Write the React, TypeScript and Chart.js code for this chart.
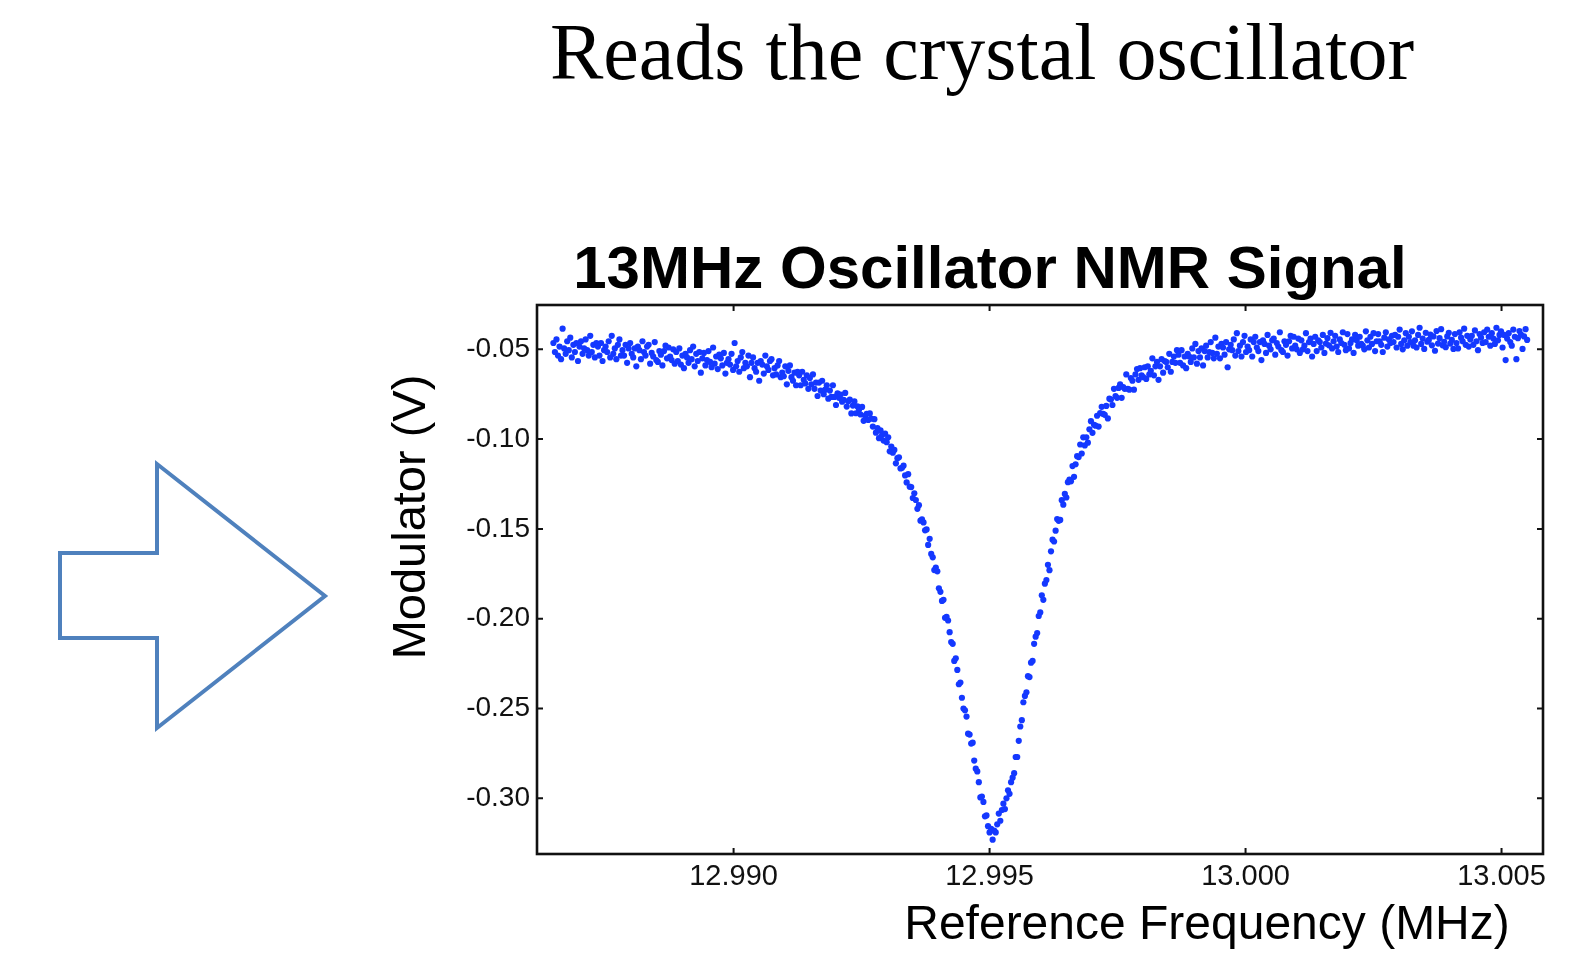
import React, { useEffect, useRef } from "react";
import { Chart, registerables } from "chart.js";

Chart.register(...registerables);

// Sweep frequencies (MHz)
const freqMHz = [
  12.98648, 12.98651, 12.98654, 12.98657, 12.9866, 12.98663, 12.98666, 12.98669, 12.98672, 12.98675,
  12.98678, 12.98681, 12.98684, 12.98687, 12.9869, 12.98693, 12.98696, 12.98699, 12.98702, 12.98705,
  12.98708, 12.98711, 12.98714, 12.98717, 12.9872, 12.98723, 12.98726, 12.98729, 12.98732, 12.98735,
  12.98738, 12.98741, 12.98744, 12.98747, 12.9875, 12.98753, 12.98756, 12.98759, 12.98762, 12.98765,
  12.98768, 12.98771, 12.98774, 12.98777, 12.9878, 12.98783, 12.98786, 12.98789, 12.98792, 12.98795,
  12.98798, 12.98801, 12.98804, 12.98807, 12.9881, 12.98813, 12.98816, 12.98819, 12.98822, 12.98825,
  12.98828, 12.98831, 12.98834, 12.98837, 12.9884, 12.98843, 12.98846, 12.98849, 12.98852, 12.98855,
  12.98858, 12.98861, 12.98864, 12.98867, 12.9887, 12.98873, 12.98876, 12.98879, 12.98882, 12.98885,
  12.98888, 12.98891, 12.98894, 12.98897, 12.989, 12.98903, 12.98906, 12.98909, 12.98912, 12.98915,
  12.98918, 12.98921, 12.98924, 12.98927, 12.9893, 12.98933, 12.98936, 12.98939, 12.98942, 12.98945,
  12.98948, 12.98951, 12.98954, 12.98957, 12.9896, 12.98963, 12.98966, 12.98969, 12.98972, 12.98975,
  12.98978, 12.98981, 12.98984, 12.98987, 12.9899, 12.98993, 12.98996, 12.98999, 12.99002, 12.99005,
  12.99008, 12.99011, 12.99014, 12.99017, 12.9902, 12.99023, 12.99026, 12.99029, 12.99032, 12.99035,
  12.99038, 12.99041, 12.99044, 12.99047, 12.9905, 12.99053, 12.99056, 12.99059, 12.99062, 12.99065,
  12.99068, 12.99071, 12.99074, 12.99077, 12.9908, 12.99083, 12.99086, 12.99089, 12.99092, 12.99095,
  12.99098, 12.99101, 12.99104, 12.99107, 12.9911, 12.99113, 12.99116, 12.99119, 12.99122, 12.99125,
  12.99128, 12.99131, 12.99134, 12.99137, 12.9914, 12.99143, 12.99146, 12.99149, 12.99152, 12.99155,
  12.99158, 12.99161, 12.99164, 12.99167, 12.9917, 12.99173, 12.99176, 12.99179, 12.99182, 12.99185,
  12.99188, 12.99191, 12.99194, 12.99197, 12.992, 12.99203, 12.99206, 12.99209, 12.99212, 12.99215,
  12.99218, 12.99221, 12.99224, 12.99227, 12.9923, 12.99233, 12.99236, 12.99239, 12.99242, 12.99245,
  12.99248, 12.99251, 12.99254, 12.99257, 12.9926, 12.99263, 12.99266, 12.99269, 12.99272, 12.99275,
  12.99278, 12.99281, 12.99284, 12.99287, 12.9929, 12.99293, 12.99296, 12.99299, 12.99302, 12.99305,
  12.99308, 12.99311, 12.99314, 12.99317, 12.9932, 12.99323, 12.99326, 12.99329, 12.99332, 12.99335,
  12.99338, 12.99341, 12.99344, 12.99347, 12.9935, 12.99353, 12.99356, 12.99359, 12.99362, 12.99365,
  12.99368, 12.99371, 12.99374, 12.99377, 12.9938, 12.99383, 12.99386, 12.99389, 12.99392, 12.99395,
  12.99398, 12.99401, 12.99404, 12.99407, 12.9941, 12.99413, 12.99416, 12.99419, 12.99422, 12.99425,
  12.99428, 12.99431, 12.99434, 12.99437, 12.9944, 12.99443, 12.99446, 12.99449, 12.99452, 12.99455,
  12.99458, 12.99461, 12.99464, 12.99467, 12.9947, 12.99473, 12.99476, 12.99479, 12.99482, 12.99485,
  12.99488, 12.99491, 12.99494, 12.99497, 12.995, 12.99503, 12.99506, 12.99509, 12.99512, 12.99515,
  12.99518, 12.99521, 12.99524, 12.99527, 12.9953, 12.99533, 12.99536, 12.99539, 12.99542, 12.99545,
  12.99548, 12.99551, 12.99554, 12.99557, 12.9956, 12.99563, 12.99566, 12.99569, 12.99572, 12.99575,
  12.99578, 12.99581, 12.99584, 12.99587, 12.9959, 12.99593, 12.99596, 12.99599, 12.99602, 12.99605,
  12.99608, 12.99611, 12.99614, 12.99617, 12.9962, 12.99623, 12.99626, 12.99629, 12.99632, 12.99635,
  12.99638, 12.99641, 12.99644, 12.99647, 12.9965, 12.99653, 12.99656, 12.99659, 12.99662, 12.99665,
  12.99668, 12.99671, 12.99674, 12.99677, 12.9968, 12.99683, 12.99686, 12.99689, 12.99692, 12.99695,
  12.99698, 12.99701, 12.99704, 12.99707, 12.9971, 12.99713, 12.99716, 12.99719, 12.99722, 12.99725,
  12.99728, 12.99731, 12.99734, 12.99737, 12.9974, 12.99743, 12.99746, 12.99749, 12.99752, 12.99755,
  12.99758, 12.99761, 12.99764, 12.99767, 12.9977, 12.99773, 12.99776, 12.99779, 12.99782, 12.99785,
  12.99788, 12.99791, 12.99794, 12.99797, 12.998, 12.99803, 12.99806, 12.99809, 12.99812, 12.99815,
  12.99818, 12.99821, 12.99824, 12.99827, 12.9983, 12.99833, 12.99836, 12.99839, 12.99842, 12.99845,
  12.99848, 12.99851, 12.99854, 12.99857, 12.9986, 12.99863, 12.99866, 12.99869, 12.99872, 12.99875,
  12.99878, 12.99881, 12.99884, 12.99887, 12.9989, 12.99893, 12.99896, 12.99899, 12.99902, 12.99905,
  12.99908, 12.99911, 12.99914, 12.99917, 12.9992, 12.99923, 12.99926, 12.99929, 12.99932, 12.99935,
  12.99938, 12.99941, 12.99944, 12.99947, 12.9995, 12.99953, 12.99956, 12.99959, 12.99962, 12.99965,
  12.99968, 12.99971, 12.99974, 12.99977, 12.9998, 12.99983, 12.99986, 12.99989, 12.99992, 12.99995,
  12.99998, 13.00001, 13.00004, 13.00007, 13.0001, 13.00013, 13.00016, 13.00019, 13.00022, 13.00025,
  13.00028, 13.00031, 13.00034, 13.00037, 13.0004, 13.00043, 13.00046, 13.00049, 13.00052, 13.00055,
  13.00058, 13.00061, 13.00064, 13.00067, 13.0007, 13.00073, 13.00076, 13.00079, 13.00082, 13.00085,
  13.00088, 13.00091, 13.00094, 13.00097, 13.001, 13.00103, 13.00106, 13.00109, 13.00112, 13.00115,
  13.00118, 13.00121, 13.00124, 13.00127, 13.0013, 13.00133, 13.00136, 13.00139, 13.00142, 13.00145,
  13.00148, 13.00151, 13.00154, 13.00157, 13.0016, 13.00163, 13.00166, 13.00169, 13.00172, 13.00175,
  13.00178, 13.00181, 13.00184, 13.00187, 13.0019, 13.00193, 13.00196, 13.00199, 13.00202, 13.00205,
  13.00208, 13.00211, 13.00214, 13.00217, 13.0022, 13.00223, 13.00226, 13.00229, 13.00232, 13.00235,
  13.00238, 13.00241, 13.00244, 13.00247, 13.0025, 13.00253, 13.00256, 13.00259, 13.00262, 13.00265,
  13.00268, 13.00271, 13.00274, 13.00277, 13.0028, 13.00283, 13.00286, 13.00289, 13.00292, 13.00295,
  13.00298, 13.00301, 13.00304, 13.00307, 13.0031, 13.00313, 13.00316, 13.00319, 13.00322, 13.00325,
  13.00328, 13.00331, 13.00334, 13.00337, 13.0034, 13.00343, 13.00346, 13.00349, 13.00352, 13.00355,
  13.00358, 13.00361, 13.00364, 13.00367, 13.0037, 13.00373, 13.00376, 13.00379, 13.00382, 13.00385,
  13.00388, 13.00391, 13.00394, 13.00397, 13.004, 13.00403, 13.00406, 13.00409, 13.00412, 13.00415,
  13.00418, 13.00421, 13.00424, 13.00427, 13.0043, 13.00433, 13.00436, 13.00439, 13.00442, 13.00445,
  13.00448, 13.00451, 13.00454, 13.00457, 13.0046, 13.00463, 13.00466, 13.00469, 13.00472, 13.00475,
  13.00478, 13.00481, 13.00484, 13.00487, 13.0049, 13.00493, 13.00496, 13.00499, 13.00502, 13.00505,
  13.00508, 13.00511, 13.00514, 13.00517, 13.0052, 13.00523, 13.00526, 13.00529, 13.00532, 13.00535,
  13.00538, 13.00541, 13.00544, 13.00547, 13.0055,
];

// Modulator output (V)
const signalV = [
  -0.0465, -0.0515, -0.0445, -0.0535, -0.0485, -0.0555, -0.0385, -0.0495, -0.0525, -0.0455,
  -0.0505, -0.0435, -0.0545, -0.0475, -0.0515, -0.0465, -0.0565, -0.0485, -0.0455, -0.0525,
  -0.0495, -0.0445, -0.0505, -0.0535, -0.0425, -0.0515, -0.0475, -0.0545, -0.0465, -0.0485,
  -0.0535, -0.0465, -0.0565, -0.0505, -0.0485, -0.0515, -0.0455, -0.0545, -0.0425, -0.0525,
  -0.0495, -0.0555, -0.0475, -0.0445, -0.0535, -0.0505, -0.0535, -0.0475, -0.0575, -0.0495,
  -0.0465, -0.0525, -0.0545, -0.0495, -0.0595, -0.0485, -0.0505, -0.0555, -0.0455, -0.0515,
  -0.0535, -0.0485, -0.0475, -0.058, -0.052, -0.054, -0.046, -0.056, -0.057, -0.051,
  -0.053, -0.059, -0.051, -0.048, -0.055, -0.049, -0.054, -0.056, -0.05, -0.058,
  -0.0515, -0.0565, -0.0495, -0.0585, -0.0535, -0.0605, -0.0525, -0.0545, -0.0575, -0.0505,
  -0.0555, -0.0485, -0.0595, -0.0525, -0.0565, -0.0515, -0.063, -0.055, -0.052, -0.059,
  -0.056, -0.051, -0.057, -0.06, -0.049, -0.058, -0.054, -0.061, -0.053, -0.055,
  -0.059, -0.052, -0.0635, -0.0575, -0.0555, -0.0585, -0.0525, -0.0615, -0.0465, -0.0595,
  -0.0565, -0.0625, -0.0545, -0.0515, -0.0605, -0.0575, -0.0595, -0.0535, -0.0655, -0.0575,
  -0.0545, -0.0605, -0.0625, -0.0575, -0.0675, -0.0565, -0.0585, -0.0635, -0.0535, -0.0595,
  -0.0615, -0.0565, -0.0555, -0.0645, -0.0605, -0.064, -0.059, -0.0565, -0.0655, -0.063,
  -0.065, -0.0595, -0.0695, -0.062, -0.059, -0.0655, -0.0675, -0.063, -0.07, -0.0625,
  -0.0645, -0.07, -0.0625, -0.067, -0.069, -0.0645, -0.072, -0.066, -0.0695, -0.064,
  -0.072, -0.0685, -0.076, -0.0685, -0.073, -0.0675, -0.075, -0.0725, -0.07, -0.0775,
  -0.073, -0.0765, -0.07, -0.0765, -0.081, -0.0745, -0.077, -0.0752, -0.0792, -0.0782,
  -0.0743, -0.0819, -0.0789, -0.078, -0.0857, -0.0813, -0.079, -0.0856, -0.0818, -0.0836,
  -0.0863, -0.0821, -0.0898, -0.0871, -0.0859, -0.0893, -0.0857, -0.0886, -0.093, -0.0889,
  -0.0964, -0.0939, -0.0995, -0.0951, -0.0977, -0.1008, -0.097, -0.1017, -0.099, -0.1068,
  -0.1041, -0.1076, -0.106, -0.1135, -0.1106, -0.1101, -0.1163, -0.116, -0.1148, -0.1202,
  -0.1241, -0.1195, -0.1265, -0.1267, -0.1328, -0.1302, -0.1339, -0.1388, -0.1368, -0.1454,
  -0.1447, -0.1464, -0.1508, -0.1503, -0.1589, -0.1555, -0.1639, -0.1658, -0.1729, -0.1715,
  -0.1736, -0.1831, -0.185, -0.1901, -0.1895, -0.1995, -0.199, -0.201, -0.2075, -0.213,
  -0.214, -0.2235, -0.222, -0.2285, -0.2365, -0.2355, -0.244, -0.25, -0.251, -0.2545,
  -0.264, -0.2645, -0.2695, -0.269, -0.279, -0.2835, -0.285, -0.291, -0.2995, -0.299,
  -0.302, -0.31, -0.3095, -0.3155, -0.319, -0.317, -0.323, -0.318, -0.319, -0.3145,
  -0.3085, -0.3125, -0.3065, -0.303, -0.306, -0.3, -0.2955, -0.2975, -0.291, -0.2885,
  -0.286, -0.277, -0.277, -0.268, -0.26, -0.2565, -0.2465, -0.243, -0.241, -0.232,
  -0.2325, -0.2245, -0.2235, -0.214, -0.21, -0.208, -0.1985, -0.1965, -0.187, -0.1895,
  -0.1805, -0.1785, -0.17, -0.173, -0.1625, -0.156, -0.157, -0.151, -0.1445, -0.1455,
  -0.145, -0.134, -0.1365, -0.1305, -0.1325, -0.124, -0.1225, -0.1235, -0.115, -0.121,
  -0.114, -0.1095, -0.11, -0.103, -0.108, -0.099, -0.1035, -0.099, -0.102, -0.0945,
  -0.09, -0.0965, -0.092, -0.0925, -0.087, -0.093, -0.0855, -0.082, -0.086, -0.0865,
  -0.0815, -0.0885, -0.0775, -0.078, -0.081, -0.072, -0.076, -0.077, -0.0715, -0.0695,
  -0.077, -0.071, -0.072, -0.064, -0.072, -0.0725, -0.066, -0.0675, -0.0725, -0.064,
  -0.061, -0.067, -0.0605, -0.0645, -0.0655, -0.06, -0.0665, -0.0595, -0.064, -0.062,
  -0.055, -0.0645, -0.0595, -0.057, -0.067, -0.0595, -0.0555, -0.063, -0.0565, -0.057,
  -0.06, -0.0525, -0.0625, -0.057, -0.054, -0.0575, -0.0505, -0.053, -0.0575, -0.0505,
  -0.059, -0.054, -0.0605, -0.0525, -0.054, -0.057, -0.0495, -0.0545, -0.047, -0.058,
  -0.051, -0.0545, -0.0495, -0.059, -0.051, -0.048, -0.0545, -0.0515, -0.046, -0.052,
  -0.055, -0.0435, -0.0525, -0.0485, -0.055, -0.047, -0.049, -0.053, -0.046, -0.06,
  -0.05, -0.0475, -0.0505, -0.0445, -0.0535, -0.041, -0.051, -0.048, -0.054, -0.046,
  -0.0425, -0.0515, -0.0485, -0.0505, -0.0445, -0.054, -0.046, -0.043, -0.049, -0.051,
  -0.046, -0.056, -0.045, -0.047, -0.052, -0.042, -0.048, -0.05, -0.045, -0.044,
  -0.053, -0.0465, -0.0485, -0.0405, -0.0505, -0.0515, -0.0455, -0.0475, -0.0535, -0.0455,
  -0.0425, -0.0495, -0.043, -0.048, -0.05, -0.044, -0.052, -0.045, -0.05, -0.048,
  -0.041, -0.051, -0.046, -0.044, -0.054, -0.047, -0.043, -0.051, -0.045, -0.046,
  -0.049, -0.042, -0.052, -0.0468, -0.0438, -0.0478, -0.0408, -0.0495, -0.0455, -0.0425,
  -0.0485, -0.0515, -0.0445, -0.0465, -0.0405, -0.0475, -0.0505, -0.0415, -0.0495, -0.0465,
  -0.0445, -0.052, -0.042, -0.045, -0.048, -0.043, -0.047, -0.048, -0.05, -0.04,
  -0.045, -0.049, -0.043, -0.047, -0.041, -0.051, -0.0455, -0.0415, -0.0455, -0.0475,
  -0.0515, -0.0435, -0.0405, -0.0485, -0.0445, -0.0465, -0.0425, -0.046, -0.042, -0.049,
  -0.043, -0.039, -0.047, -0.05, -0.045, -0.041, -0.048, -0.043, -0.046, -0.04,
  -0.048, -0.045, -0.049, -0.042, -0.038, -0.047, -0.044, -0.0498, -0.0408, -0.0458,
  -0.0448, -0.0418, -0.0478, -0.0428, -0.0508, -0.0398, -0.0468, -0.0438, -0.0388, -0.0478,
  -0.0458, -0.0488, -0.0428, -0.0408, -0.0468, -0.0448, -0.0498, -0.0415, -0.0465, -0.0495,
  -0.0405, -0.0435, -0.0455, -0.0385, -0.0475, -0.0425, -0.0485, -0.0445, -0.0425, -0.0475,
  -0.0395, -0.0455, -0.0505, -0.0415, -0.0435, -0.0465, -0.0405, -0.046, -0.039, -0.043,
  -0.048, -0.041, -0.044, -0.047, -0.038, -0.045, -0.042, -0.04, -0.049, -0.042,
  -0.056, -0.044, -0.041, -0.046, -0.048, -0.039, -0.043, -0.0555, -0.0438, -0.0398,
  -0.0418, -0.0498, -0.0428, -0.0388, -0.0448,
];

const xTicks = [12.99, 12.995, 13.0, 13.005];
const yTicks = [-0.05, -0.1, -0.15, -0.2, -0.25, -0.3];
const xRange = [12.98616, 13.00581];
const yRange = [-0.331, -0.02533];

const slideTitle = "Reads the crystal oscillator";
const chartTitle = "13MHz Oscillator NMR Signal";
const xLabel = "Reference Frequency (MHz)";
const yLabel = "Modulator (V)";

const SANS = '"Liberation Sans", Arial, Helvetica, sans-serif';
const SERIF = '"Liberation Serif", "Times New Roman", serif';

export default function App() {
  const ref = useRef<HTMLCanvasElement | null>(null);

  useEffect(() => {
    document.body.style.margin = "0";
    const canvas = ref.current;
    if (!canvas) return;

    const framePlugin = {
      id: "frame",
      afterDraw(chart: any) {
        const { ctx, chartArea: a, scales } = chart;
        ctx.save();
        ctx.strokeStyle = "#111";
        ctx.lineWidth = 2.6;
        ctx.strokeRect(a.left, a.top, a.right - a.left, a.bottom - a.top);
        ctx.lineWidth = 2;
        const T = 6;
        ctx.beginPath();
        for (const v of xTicks) {
          const px = scales.x.getPixelForValue(v);
          ctx.moveTo(px, a.bottom);
          ctx.lineTo(px, a.bottom - T);
          ctx.moveTo(px, a.top);
          ctx.lineTo(px, a.top + T);
        }
        for (const v of yTicks) {
          const py = scales.y.getPixelForValue(v);
          ctx.moveTo(a.left, py);
          ctx.lineTo(a.left + T, py);
          ctx.moveTo(a.right, py);
          ctx.lineTo(a.right - T, py);
        }
        ctx.stroke();

        ctx.fillStyle = "#000";
        ctx.textAlign = "center";
        ctx.textBaseline = "alphabetic";
        ctx.font = `80px ${SERIF}`;
        ctx.fillText(slideTitle, 982, 79);
        ctx.font = `bold 60px ${SANS}`;
        ctx.fillText(chartTitle, 990, 288);
        ctx.font = `48px ${SANS}`;
        ctx.fillText(xLabel, 1207, 939);
        ctx.font = `47px ${SANS}`;
        ctx.translate(425, 517);
        ctx.rotate(-Math.PI / 2);
        ctx.fillText(yLabel, 0, 0);
        ctx.restore();
      },
    };

    const chart = new Chart(canvas, {
      type: "scatter",
      data: {
        datasets: [
          {
            data: freqMHz.map((x, i) => ({ x, y: signalV[i] })),
            pointRadius: 3.1,
            pointHoverRadius: 3.1,
            backgroundColor: "#1438ff",
            borderWidth: 0,
          },
        ],
      },
      options: {
        animation: false,
        responsive: false,
        devicePixelRatio: 1,
        events: [],
        layout: { padding: { left: 437, top: 305, right: 35, bottom: 54 } },
        plugins: {
          legend: { display: false },
          tooltip: { enabled: false },
          title: { display: false },
        },
        scales: {
          x: {
            type: "linear",
            min: xRange[0],
            max: xRange[1],
            grid: { display: false, drawTicks: false },
            border: { display: false },
            afterBuildTicks: (s: any) => {
              s.ticks = xTicks.map((v) => ({ value: v }));
            },
            afterFit: (s: any) => {
              s.height = 60;
            },
            ticks: {
              padding: 6,
              maxRotation: 0,
              autoSkip: false,
              color: "#111",
              font: { family: SANS, size: 29 },
              callback: (v: any) => Number(v).toFixed(3),
            },
          },
          y: {
            type: "linear",
            min: yRange[0],
            max: yRange[1],
            grid: { display: false, drawTicks: false },
            border: { display: false },
            afterBuildTicks: (s: any) => {
              s.ticks = yTicks.map((v) => ({ value: v }));
            },
            afterFit: (s: any) => {
              s.width = 100;
            },
            ticks: {
              padding: 7,
              autoSkip: false,
              color: "#111",
              font: { family: SANS, size: 28 },
              callback: (v: any) => Number(v).toFixed(2),
            },
          },
        },
      },
      plugins: [framePlugin],
    });

    return () => chart.destroy();
  }, []);

  return (
    <div style={{ position: "absolute", left: 0, top: 0, width: 1578, height: 968, background: "#fff" }}>
      <canvas ref={ref} width={1578} height={968} style={{ position: "absolute", left: 0, top: 0, width: 1578, height: 968 }} />
      <svg width={1578} height={968} style={{ position: "absolute", left: 0, top: 0, pointerEvents: "none" }}>
        <polygon
          points="60,553 157,553 157,464 325,596 157,728 157,638 60,638"
          fill="none"
          stroke="#4f81bd"
          strokeWidth={4}
          strokeLinejoin="miter"
        />
      </svg>
    </div>
  );
}
